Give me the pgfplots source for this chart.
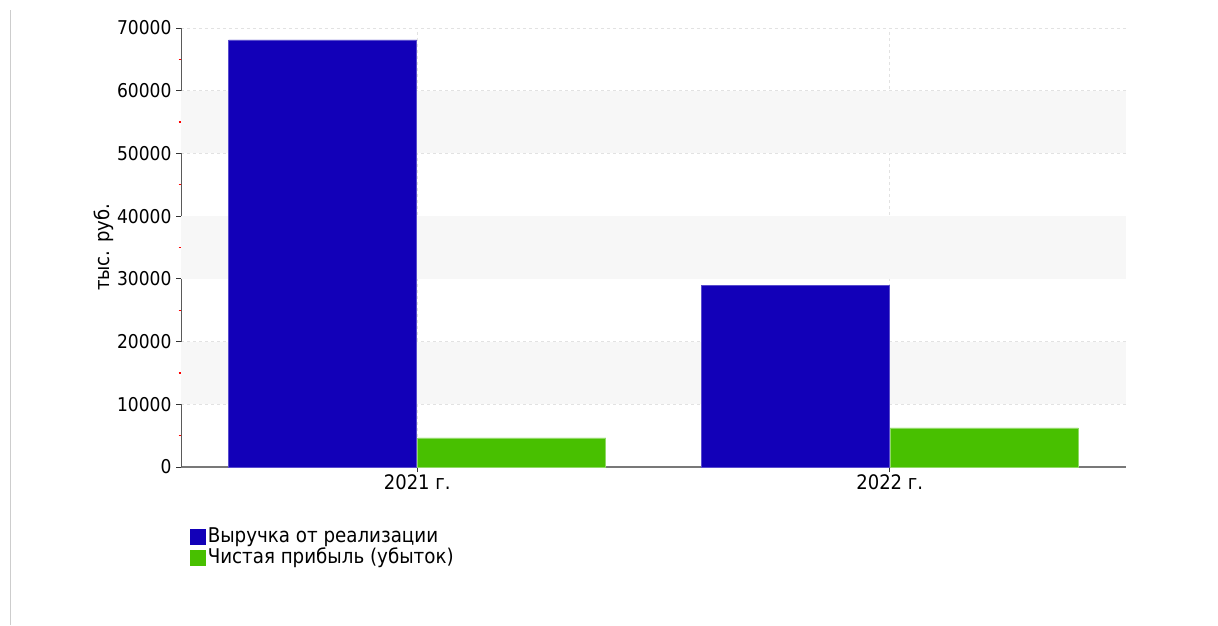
\documentclass[border=0pt]{standalone}
\usepackage{fontspec}
\setmainfont{DejaVu Sans Condensed}
\usepackage{pgfplots}
\pgfplotsset{compat=1.18}
\definecolor{barblue}{RGB}{18,0,184}
\definecolor{bargreen}{RGB}{72,192,0}
\definecolor{band}{RGB}{247,247,247}
\definecolor{gridc}{RGB}{226,226,226}
\definecolor{frameline}{RGB}{205,205,205}
\begin{document}
\begin{tikzpicture}[x=1pt,y=1pt]
\path[use as bounding box] (0,0) rectangle (1218,625);
\draw[frameline, line width=1.5pt] (10.5,0) -- (10.5,615);
\begin{axis}[
  at={(181pt,158pt)}, anchor=south west,
  scale only axis, width=945pt, height=439pt,
  xmin=-0.5, xmax=1.5, ymin=0, ymax=70000,
  axis x line=bottom, axis y line=left,
  axis line style={-},
  x axis line style={draw={rgb,255:red,120;green,120;blue,120}, line width=1.6pt},
  y axis line style={draw={rgb,255:red,90;green,90;blue,90}, line width=1pt},
  xtick={0,1}, xticklabels={2021 г., 2022 г.},
  ytick={0,10000,...,70000},
  minor y tick num=1,
  scaled y ticks=false,
  /pgf/number format/assume math mode=true,
  /pgf/number format/set thousands separator={},
  tick align=outside,
  major tick length=5pt, minor tick length=2.5pt,
  major tick style={black!80, line width=1pt},
  minor tick style={red, line width=1.2pt},
  ymajorgrids, xmajorgrids,
  grid style={gridc, dashed, line width=0.8pt},
  yticklabel style={font=\fontsize{19}{22}\selectfont, xshift=-1pt},
  xticklabel style={font=\fontsize{20}{22}\selectfont, yshift=1pt},
  ylabel={тыс. руб.},
  ylabel style={font=\fontsize{20}{22}\selectfont, at={(axis description cs:-0.0815,0.5)}, anchor=center},
  legend style={at={(axis description cs:0.0095,-0.1365)}, anchor=north west, draw=none, fill=none,
    font=\fontsize{20.3}{22}\selectfont, inner sep=0pt, row sep=0pt,
    nodes={inner xsep=2pt, inner ysep=1pt, text height=14pt, text depth=5pt}},
  legend cell align=left,
  clip=false,
]
\fill[band] (axis cs:-0.5,10000) rectangle (axis cs:1.5,20000);
\fill[band] (axis cs:-0.5,30000) rectangle (axis cs:1.5,40000);
\fill[band] (axis cs:-0.5,50000) rectangle (axis cs:1.5,60000);
\addplot[ybar, bar width=0.398, bar shift=-0.2, fill=barblue, draw=barblue!70!white, line width=0.6pt,
  legend image code/.code={\fill[barblue] (0pt,-7pt) rectangle (15pt,8pt);}]
  coordinates {(0,68100) (1,28900)};
\addlegendentry{Выручка от реализации}
\addplot[ybar, bar width=0.398, bar shift=0.2, fill=bargreen, draw=bargreen!60!white, line width=0.6pt,
  legend image code/.code={\fill[bargreen] (0pt,-7pt) rectangle (15pt,8pt);}]
  coordinates {(0,4650) (1,6250)};
\addlegendentry{Чистая прибыль (убыток)}
\end{axis}
\end{tikzpicture}
\end{document}
